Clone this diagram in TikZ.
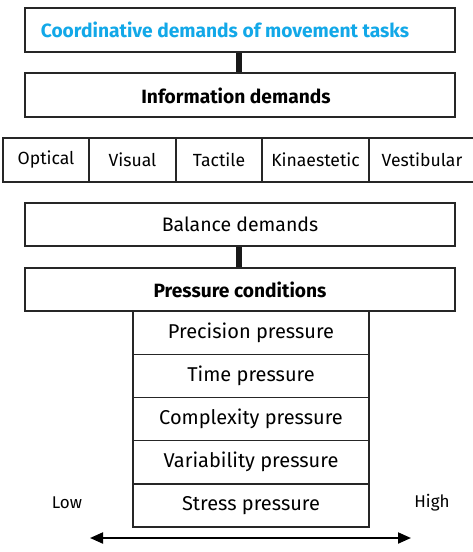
\documentclass[tikz,border=0pt]{standalone}
\usepackage{fontspec}
\setmainfont{Fira Sans}
\usetikzlibrary{arrows.meta}
\definecolor{titlecyan}{HTML}{12A8E8}
\begin{document}
\begin{tikzpicture}[x=1pt,y=-1pt,
  box/.style={draw=black!85, line width=1.4pt, fill=white, inner sep=0pt, minimum height=43pt, font=\fontsize{19.5}{22}\selectfont},
  wide/.style={box, minimum width=430pt},
  headbox/.style={wide, font=\fontsize{19.2}{22}\selectfont\bfseries},
  cell/.style={box, minimum height=44pt, font=\fontsize{17.6}{20}\selectfont},
  stackbox/.style={box, minimum width=236pt, minimum height=43.2pt, font=\fontsize{20}{23}\selectfont},
  link/.style={line width=6pt, line cap=round, black!90},
  lbl/.style={font=\fontsize{17}{20}\selectfont, inner sep=0pt}]
\useasboundingbox (0,0) rectangle (472,552);
% connectors first
\coordinate (c1a) at (239,52);
\coordinate (c1b) at (239,74);
\coordinate (c2a) at (239,246);
\coordinate (c2b) at (239,268);
\draw[link] (c1a) -- (c1b);
\draw[link] (c2a) -- (c2b);
\node[headbox, minimum height=44pt] (titlebox) at (240,30) {};
\node[font=\fontsize{19.2}{22}\selectfont\bfseries, text=titlecyan, inner sep=0pt] (title) at (225,30) {Coordinative demands of movement tasks};
\node[headbox, minimum height=44pt] (infobox) at (240,95) {};
\node[font=\fontsize{19.2}{22}\selectfont\bfseries, inner sep=0pt] (info) at (236,96) {Information demands};
\node[cell, minimum width=86pt] (opt) at (46,160) {Optical};
\node[cell, minimum width=87pt] (vis) at (132.5,160) {Visual};
\node[cell, minimum width=86pt] (tac) at (219,160) {Tactile};
\node[cell, minimum width=107pt] (kin) at (315.5,160) {Kinaestetic};
\node[cell, minimum width=106pt] (ves) at (422,160) {Vestibular};
\node[wide] (bal) at (240,224.5) {Balance demands};
\node[headbox] (pre) at (240,289.5) {Pressure conditions};
\node[stackbox] (p1) at (251,332.6) {Precision pressure};
\node[stackbox] (p2) at (251,375.8) {Time pressure};
\node[stackbox] (p3) at (251,419) {Complexity pressure};
\node[stackbox] (p4) at (251,462.2) {Variability pressure};
\node[stackbox] (p5) at (251,505.4) {Stress pressure};
\node[lbl] (low) at (67,503) {Low};
\node[lbl] (high) at (432,503) {High};
\coordinate (al) at (90,538);
\coordinate (ar) at (411,538);
\draw[line width=2pt, {Triangle[length=13pt,width=11pt]}-{Triangle[length=13pt,width=11pt]}] (al) -- (ar);
\end{tikzpicture}
\end{document}
